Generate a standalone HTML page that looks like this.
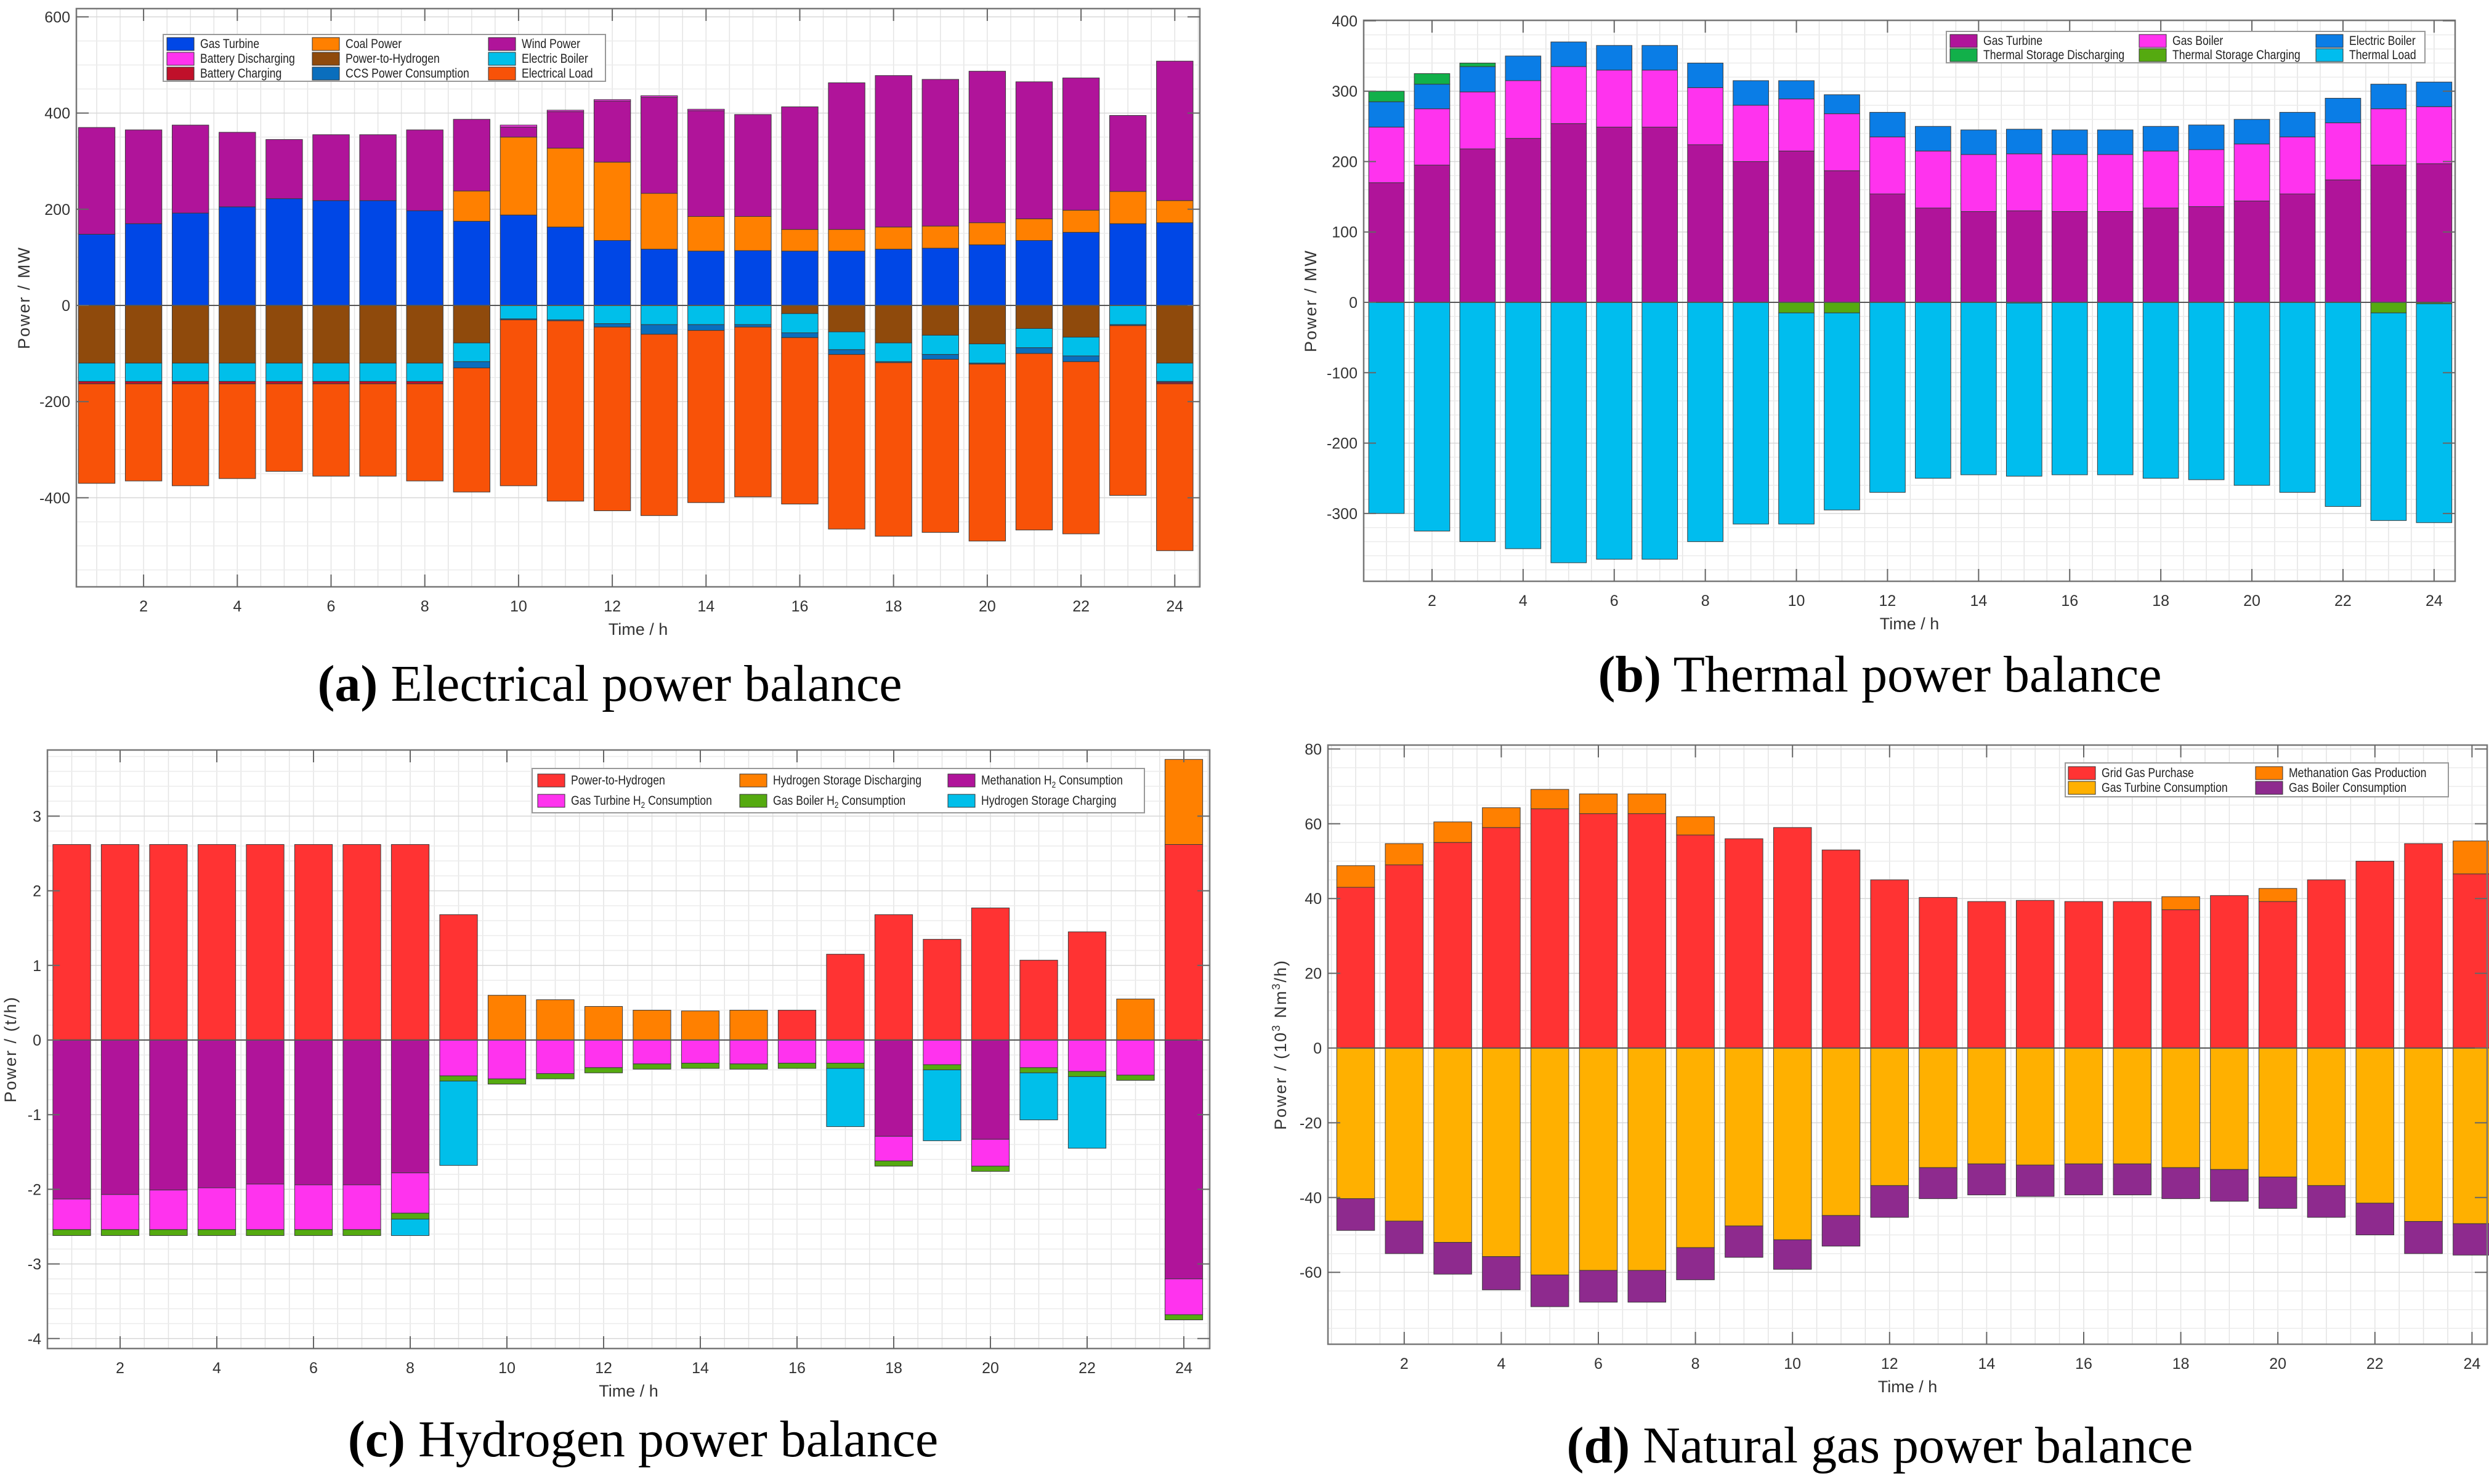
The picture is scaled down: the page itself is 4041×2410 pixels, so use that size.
<!DOCTYPE html>
<html><head><meta charset="utf-8"><title>Power balance</title>
<style>
html,body{margin:0;padding:0;background:#fff;}
svg{display:block;font-family:"Liberation Sans",Arial,sans-serif;}
.cap{font-family:"Liberation Serif",serif;font-size:84px;fill:#000;}
</style></head>
<body>
<svg id="fig" width="4041" height="2410" viewBox="0 0 4041 2410" xmlns="http://www.w3.org/2000/svg">
<text class="cap" x="990" y="1138" text-anchor="middle"><tspan font-weight="bold">(a)</tspan> Electrical power balance</text>
<text class="cap" x="3052" y="1123" text-anchor="middle"><tspan font-weight="bold">(b)</tspan> Thermal power balance</text>
<text class="cap" x="1044" y="2365" text-anchor="middle"><tspan font-weight="bold">(c)</tspan> Hydrogen power balance</text>
<text class="cap" x="3052" y="2375" text-anchor="middle"><tspan font-weight="bold">(d)</tspan> Natural gas power balance</text>
</svg>
<script>
// ---------- data: hours ----------
const hours = [1,2,3,4,5,6,7,8,9,10,11,12,13,14,15,16,17,18,19,20,21,22,23,24];
const xTickLabels = ["2","4","6","8","10","12","14","16","18","20","22","24"];

// ---------- (a) electrical ----------
const aGasTurbine = [148,170,192,205,222,218,218,197,175,188,163,135,117,113,114,113,113,117,119,126,135,152,170,172];
const aCoal = [0,0,0,0,0,0,0,0,63,162,164,163,116,72,71,45,45,46,46,46,45,46,67,46];
const aWind = [222,195,183,155,123,137,137,168,149,21,76,127,200,220,212,255,305,315,305,315,285,275,158,290];
const aBatDis = [0,0,0,0,0,0,0,0,0,4,3,3,3,3,0,0,0,0,0,0,0,0,0,0];
const aPtH = [120,120,120,120,120,120,120,120,78,0,0,0,0,0,0,17,55,78,62,80,48,66,0,120];
const aEB = [38,38,38,38,38,38,38,38,39,28,30,38,40,40,40,40,37,39,40,40,40,39,40,38];
const aCCS = [0,0,0,0,0,0,0,0,13,2,2,7,20,12,5,10,10,2,10,2,12,12,2,2];
const aBatCh = [5,5,5,5,5,5,5,5,0,0,0,0,0,0,0,0,0,0,0,0,0,0,0,3];
const aLoadTotal = [370,365,375,360,345,355,355,365,388,375,407,427,437,410,398,413,465,480,472,490,467,475,395,510];
const aYTicks = [-400,-200,0,200,400,600];

// ---------- (b) thermal ----------
const bGasTurbine = [170,195,218,233,254,249,249,224,200,215,187,154,134,129,130,129,129,134,136,144,154,174,195,197];
const bGasBoiler = [79,80,81,82,81,81,81,81,80,74,81,81,81,81,81,81,81,81,81,81,81,81,80,81];
const bElecBoiler = [36,35,36,35,35,35,35,35,35,26,27,35,35,35,35,35,35,35,35,35,35,35,35,35];
const bTSDis = [15,15,5,0,0,0,0,0,0,0,0,0,0,0,0,0,0,0,0,0,0,0,0,0];
const bTSCh = [0,0,0,0,0,0,0,0,0,15,15,0,0,0,1,0,0,0,0,0,0,0,15,2];
const bLoadTotal = [300,325,340,350,370,365,365,340,315,315,295,270,250,245,247,245,245,250,252,260,270,290,310,313];
const bYTicks = [-300,-200,-100,0,100,200,300,400];

// ---------- (c) hydrogen ----------
const cPtH = [2.62,2.62,2.62,2.62,2.62,2.62,2.62,2.62,1.68,0,0,0,0,0,0,0.4,1.15,1.68,1.35,1.77,1.07,1.45,0,2.62];
const cHSDis = [0,0,0,0,0,0,0,0,0,0.6,0.54,0.45,0.4,0.39,0.4,0,0,0,0,0,0,0,0.55,1.14];
const cMeth = [2.13,2.07,2.01,1.98,1.93,1.94,1.94,1.78,0,0,0,0,0,0,0,0,0,1.29,0,1.33,0,0,0,3.2];
const cGTH2 = [0.41,0.47,0.53,0.56,0.61,0.6,0.6,0.54,0.48,0.52,0.45,0.37,0.32,0.31,0.32,0.31,0.31,0.33,0.33,0.36,0.37,0.42,0.47,0.48];
const cGBH2 = [0.08,0.08,0.08,0.08,0.08,0.08,0.08,0.08,0.07,0.07,0.07,0.07,0.07,0.07,0.07,0.07,0.07,0.07,0.07,0.07,0.07,0.07,0.07,0.07];
const cHSCh = [0,0,0,0,0,0,0,0.22,1.13,0,0,0,0,0,0,0,0.78,0,0.95,0,0.63,0.96,0,0];
const cYTicks = [-4,-3,-2,-1,0,1,2,3];

// ---------- (d) gas ----------
const dGrid = [43,49,55,59,64,62.7,62.7,57,56,59,53,45,40.3,39.2,39.5,39.2,39.2,37,40.8,39.2,45,50,54.7,46.6];
const dMethProd = [5.8,5.7,5.5,5.3,5.2,5.3,5.3,4.9,0,0,0,0,0,0,0,0,0,3.5,0,3.5,0,0,0,8.8];
const dGTCons = [40.3,46.3,52,55.8,60.7,59.5,59.5,53.4,47.6,51.3,44.8,36.8,32,31,31.3,31,31,32,32.5,34.5,36.8,41.5,46.4,47];
const dGBCons = [8.5,8.7,8.5,8.9,8.5,8.5,8.5,8.6,8.4,7.9,8.2,8.5,8.3,8.3,8.4,8.3,8.3,8.3,8.5,8.4,8.5,8.5,8.6,8.4];
const dYTicks = [-60,-40,-20,0,20,40,60,80];

const NS = "http://www.w3.org/2000/svg";
const svg = document.getElementById('fig');
function mk(tag, attrs, parent){
  const e = document.createElementNS(NS, tag);
  for (const k in attrs) e.setAttribute(k, attrs[k]);
  (parent||svg).appendChild(e);
  return e;
}

function panel(cfg){
  const g = mk('g', {});
  
  
  const L=cfg.left, R=cfg.right, T=cfg.top, B=cfg.bottom;
  const xs = h => cfg.x1 + (h-1)*cfg.dx;
  const ys = v => cfg.y0 - v*cfg.k;
  const vTop = (cfg.y0-T)/cfg.k, vBot = (cfg.y0-B)/cfg.k;
  mk('rect',{x:L,y:T,width:R-L,height:B-T,fill:'#fff'},g);
  // grid
  const grid = mk('g',{stroke:'#e4e4e4','stroke-width':1.5},g);
  
  
  for (let h=0; h<=25; h+=0.5){ const x=xs(h); if(x>L+1&&x<R-1) mk('line',{x1:x,y1:T,x2:x,y2:B},grid); }
  const mstart = Math.ceil(vBot/cfg.minor)*cfg.minor;
  for (let v=mstart; v<=vTop; v+=cfg.minor){ const y=ys(v); mk('line',{x1:L,y1:y,x2:R,y2:y,stroke: (Math.abs(v/cfg.major-Math.round(v/cfg.major))<1e-6)?'#d8d8d8':'#ececec'},grid); }
  // bars
  const bw = cfg.dx*0.78;
  hours.forEach((h,i)=>{
    let pos=0, neg=0;
    cfg.pos.forEach(s=>{
      const v=s.data[i]; if(v<=0) return;
      const r=mk('rect',{x:xs(h)-bw/2,y:ys(pos+v),width:bw,height:v*cfg.k,fill:s.color,stroke:'#3a3a3a','stroke-width':1},g);
      
      
      pos+=v;
    });
    cfg.neg.forEach(s=>{
      let v=s.data[i];
      if (s.total) v = v - neg;
      if(v<=0) return;
      const r=mk('rect',{x:xs(h)-bw/2,y:ys(-neg),width:bw,height:v*cfg.k,fill:s.color,stroke:'#3a3a3a','stroke-width':1},g);
      
      
      neg+=v;
    });
  });
  // zero line
  mk('line',{x1:L,y1:ys(0),x2:R,y2:ys(0),stroke:'#555','stroke-width':2},g);
  // frame
  const fr = mk('rect',{x:L,y:T,width:R-L,height:B-T,fill:'none',stroke:'#777','stroke-width':2.5},g);
  
  
  // x ticks
  xTickLabels.forEach(lbl=>{
    const x=xs(+lbl);
    mk('line',{x1:x,y1:B,x2:x,y2:B-20,stroke:'#666','stroke-width':2},g);
    mk('line',{x1:x,y1:T,x2:x,y2:T+20,stroke:'#666','stroke-width':2},g);
    const t=mk('text',{x:x,y:B+40,'font-size':25,'text-anchor':'middle',fill:'#333'},g);
    
    
    t.textContent=lbl;
  });
  cfg.yticks.forEach(v=>{
    const y=ys(v);
    mk('line',{x1:L,y1:y,x2:L+20,y2:y,stroke:'#666','stroke-width':2},g);
    mk('line',{x1:R,y1:y,x2:R-20,y2:y,stroke:'#666','stroke-width':2},g);
    const t=mk('text',{x:L-10,y:y+9,'font-size':25,'text-anchor':'end',fill:'#333'},g);
    
    
    t.textContent=String(v);
  });
  const xl=mk('text',{x:(L+R)/2,y:B+78,'font-size':27,'text-anchor':'middle',fill:'#333'},g);
  
  
  xl.textContent='Time / h';
  const yl=mk('text',{x:0,y:0,'font-size':27,'text-anchor':'middle',fill:'#333','letter-spacing':'2',transform:`translate(${cfg.ylx},${(T+B)/2}) rotate(-90)`},g);
  
  
  yl.innerHTML=cfg.ylabel;
  // legend
  const lg=cfg.legend;
  const lgG=mk('g',{},g);
  
  
  mk('rect',{x:lg.x,y:lg.y,width:lg.w,height:lg.h,fill:'#fff',stroke:'#999','stroke-width':2},lgG);
  lg.items.forEach(it=>{
    const e=mk('g',{},lgG);
    
    
    mk('rect',{x:it[0],y:it[1]-10,width:44,height:21,fill:it[3],stroke:'#333','stroke-width':1},e);
    const t=mk('text',{x:0,y:0,'font-size':21,fill:'#222',transform:`translate(${it[0]+54},${it[1]+7}) scale(0.84,1)`},e);
    t.innerHTML=it[2];
  });
}

const H2 = 'H<tspan font-size="14" dy="5">2</tspan><tspan dy="-5"> Consumption</tspan>';

panel({name:'electrical-chart',left:124,right:1948,top:14,bottom:953,x1:157,dx:76.1,y0:496,k:0.781,major:200,minor:50,yticks:aYTicks,ylx:48,ylabel:'Power / MW',
  pos:[{key:'gas-turbine',data:aGasTurbine,color:'#0047e6'},{key:'coal-power',data:aCoal,color:'#ff8000'},{key:'wind-power',data:aWind,color:'#b0149a'},{key:'battery-discharging',data:aBatDis,color:'#ff33ee'}],
  neg:[{key:'power-to-hydrogen',data:aPtH,color:'#8f4a0c'},{key:'electric-boiler',data:aEB,color:'#00bfea'},{key:'ccs',data:aCCS,color:'#0a6ebd'},{key:'battery-charging',data:aBatCh,color:'#c0102a'},{key:'electrical-load',data:aLoadTotal,color:'#f85208',total:true}],
  legend:{x:265,y:56,w:718,h:76,items:[[271,71,'Gas Turbine','#0047e6'],[507,71,'Coal Power','#ff8000'],[793,71,'Wind Power','#b0149a'],[271,95,'Battery Discharging','#ff33ee'],[507,95,'Power-to-Hydrogen','#8f4a0c'],[793,95,'Electric Boiler','#00bfea'],[271,119,'Battery Charging','#c0102a'],[507,119,'CCS Power Consumption','#0a6ebd'],[793,119,'Electrical Load','#f85208']]}});

panel({name:'thermal-chart',left:2214,right:3986,top:33,bottom:944,x1:2251,dx:73.95,y0:491,k:1.143,major:100,minor:20,yticks:bYTicks,ylx:2137,ylabel:'Power / MW',
  pos:[{key:'gas-turbine',data:bGasTurbine,color:'#b0149a'},{key:'gas-boiler',data:bGasBoiler,color:'#ff33ee'},{key:'electric-boiler',data:bElecBoiler,color:'#0a7de6'},{key:'thermal-storage-discharging',data:bTSDis,color:'#12b04a'}],
  neg:[{key:'thermal-storage-charging',data:bTSCh,color:'#55aa10'},{key:'thermal-load',data:bLoadTotal,color:'#00bdee',total:true}],
  legend:{x:3160,y:51,w:777,h:51,items:[[3166,66,'Gas Turbine','#b0149a'],[3473,66,'Gas Boiler','#ff33ee'],[3760,66,'Electric Boiler','#0a7de6'],[3166,89,'Thermal Storage Discharging','#12b04a'],[3473,89,'Thermal Storage Charging','#55aa10'],[3760,89,'Thermal Load','#00bdee']]}});

panel({name:'hydrogen-chart',left:77,right:1964,top:1218,bottom:2190,x1:116.5,dx:78.5,y0:1689,k:121.2,major:1,minor:0.2,yticks:cYTicks,ylx:26,ylabel:'Power / (t/h)',
  pos:[{key:'power-to-hydrogen',data:cPtH,color:'#ff3333'},{key:'hydrogen-storage-discharging',data:cHSDis,color:'#ff8000'}],
  neg:[{key:'methanation-h2',data:cMeth,color:'#b0149a'},{key:'gas-turbine-h2',data:cGTH2,color:'#ff33ee'},{key:'gas-boiler-h2',data:cGBH2,color:'#55aa10'},{key:'hydrogen-storage-charging',data:cHSCh,color:'#00bfea'}],
  legend:{x:864,y:1248,w:994,h:72,items:[[873,1267,'Power-to-Hydrogen','#ff3333'],[1201,1267,'Hydrogen Storage Discharging','#ff8000'],[1539,1267,'Methanation '+H2,'#b0149a'],[873,1300,'Gas Turbine '+H2,'#ff33ee'],[1201,1300,'Gas Boiler '+H2,'#55aa10'],[1539,1300,'Hydrogen Storage Charging','#00bfea']]}});

panel({name:'gas-chart',left:2156,right:4038,top:1210,bottom:2183,x1:2201,dx:78.8,y0:1702,k:6.07,major:20,minor:5,yticks:dYTicks,ylx:2088,ylabel:'Power / (10<tspan font-size="18" dy="-10">3</tspan><tspan dy="10"> Nm</tspan><tspan font-size="18" dy="-10">3</tspan><tspan dy="10">/h)</tspan>',
  pos:[{key:'grid-gas-purchase',data:dGrid,color:'#ff3333'},{key:'methanation-gas-production',data:dMethProd,color:'#ff8000'}],
  neg:[{key:'gas-turbine-consumption',data:dGTCons,color:'#ffb000'},{key:'gas-boiler-consumption',data:dGBCons,color:'#8e2a8e'}],
  legend:{x:3353,y:1239,w:622,h:55,items:[[3358,1255,'Grid Gas Purchase','#ff3333'],[3662,1255,'Methanation Gas Production','#ff8000'],[3358,1279,'Gas Turbine Consumption','#ffb000'],[3662,1279,'Gas Boiler Consumption','#8e2a8e']]}});
</script>
</body></html>
